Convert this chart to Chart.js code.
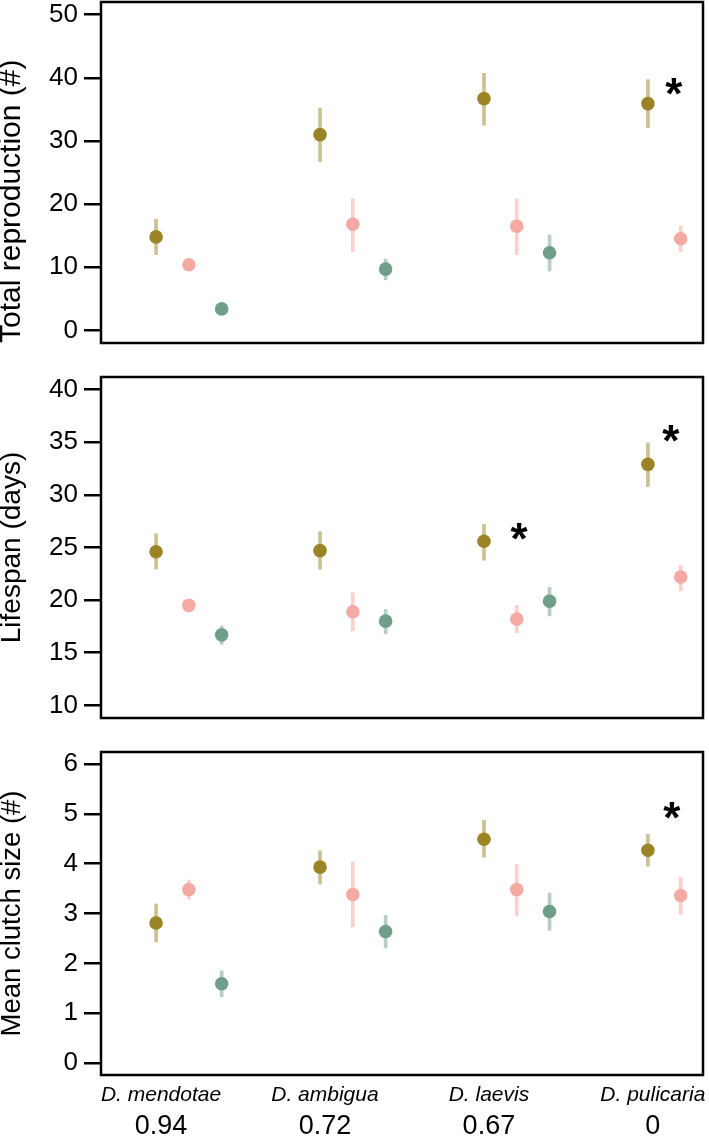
<!DOCTYPE html>
<html>
<head>
<meta charset="utf-8">
<script src="https://cdn.jsdelivr.net/npm/chart.js@4/dist/chart.umd.min.js"></script>
<style>
  html, body { margin: 0; padding: 0; background: #fff; }
  canvas { position: absolute; left: 0; }
</style>
</head>
<body>
<canvas id="c1" width="709" height="350" style="top:0"></canvas>
<canvas id="c2" width="709" height="370" style="top:350px"></canvas>
<canvas id="c3" width="709" height="416" style="top:720px"></canvas>
<script>
// categories
const species = ['D. mendotae', 'D. ambigua', 'D. laevis', 'D. pulicaria'];
const similarity = ['0.94', '0.72', '0.67', '0'];
const labelX = [1.15, 6.15, 11.15, 16.15];

// x slot of each series inside the groups (no teal for D. pulicaria)
const xOlive = [1, 6, 11, 16];
const xPink = [2, 7, 12, 17];
const xTeal = [3, 8, 13];

// Total reproduction (#)
const reproOlive = [14.8, 31.0, 36.7, 35.9];
const reproOliveLo = [12.0, 26.7, 32.5, 32.1];
const reproOliveHi = [17.6, 35.2, 40.7, 39.7];
const reproPink = [10.4, 16.8, 16.5, 14.5];
const reproPinkLo = [10.0, 12.5, 12.0, 12.4];
const reproPinkHi = [10.8, 20.8, 20.8, 16.5];
const reproTeal = [3.4, 9.7, 12.3];
const reproTealLo = [3.1, 8.0, 9.4];
const reproTealHi = [3.7, 11.3, 15.1];
const reproTicks = [0, 10, 20, 30, 40, 50];
const reproStars = [{x: 16.79, y: 38.6}];

// Lifespan (days)
const lifeOlive = [24.6, 24.7, 25.6, 32.9];
const lifeOliveLo = [22.95, 22.95, 23.8, 30.8];
const lifeOliveHi = [26.3, 26.5, 27.2, 34.95];
const lifePink = [19.5, 18.9, 18.2, 22.2];
const lifePinkLo = [19.2, 17.1, 16.9, 20.9];
const lifePinkHi = [19.8, 20.7, 19.5, 23.3];
const lifeTeal = [16.7, 18.0, 19.9];
const lifeTealLo = [15.8, 16.8, 18.5];
const lifeTealHi = [17.55, 19.1, 21.2];
const lifeTicks = [10, 15, 20, 25, 30, 35, 40];
const lifeStars = [{x: 12.07, y: 26.5}, {x: 16.7, y: 35.8}];

// Mean clutch size (#)
const clutchOlive = [2.81, 3.93, 4.49, 4.27];
const clutchOliveLo = [2.43, 3.59, 4.13, 3.95];
const clutchOliveHi = [3.19, 4.26, 4.87, 4.59];
const clutchPink = [3.48, 3.38, 3.48, 3.36];
const clutchPinkLo = [3.29, 2.73, 2.96, 2.98];
const clutchPinkHi = [3.67, 4.03, 3.98, 3.73];
const clutchTeal = [1.59, 2.64, 3.04];
const clutchTealLo = [1.33, 2.31, 2.66];
const clutchTealHi = [1.85, 2.96, 3.41];
const clutchTicks = [0, 1, 2, 3, 4, 5, 6];
const clutchStars = [{x: 16.73, y: 5.06}];

const OLIVE = '#9a8425', PINK = '#f5a9a3', TEAL = '#6f9e89';
const OLIVE_BAR = 'rgba(154,132,37,0.5)', PINK_BAR = 'rgba(245,169,163,0.55)', TEAL_BAR = 'rgba(111,158,137,0.5)';
const FONT = '"Liberation Sans", Arial, Helvetica, sans-serif';

function points(xs, vals) {
    return vals.map((v, i) => ({x: xs[i], y: v}));
}
function bars(xs, lo, hi) {
    return lo.map((v, i) => ({x: xs[i], y: [v, hi[i]]}));
}

// frame around the plot + significance stars
const boxAndStars = {
    id: 'boxAndStars',
    afterDatasetsDraw(chart, args, opts) {
        const {ctx, chartArea: a, scales} = chart;
        ctx.save();
        ctx.strokeStyle = '#000';
        ctx.lineWidth = 2.5;
        ctx.strokeRect(a.left, a.top, a.right - a.left, a.bottom - a.top);
        ctx.font = 'bold 44px ' + FONT;
        ctx.fillStyle = '#000';
        ctx.textAlign = 'center';
        ctx.textBaseline = 'alphabetic';
        const m = ctx.measureText('*');
        (opts.stars || []).forEach(s => {
            const px = scales.x.getPixelForValue(s.x);
            const py = scales.y.getPixelForValue(s.y);
            ctx.fillText('*', px, py + (m.actualBoundingBoxAscent - m.actualBoundingBoxDescent) / 2);
        });
        ctx.restore();
    }
};

function makePanel(id, p) {
    const span = p.ticks[p.ticks.length - 1] - p.ticks[0];
    const barData = bars(xOlive, p.oliveLo, p.oliveHi)
        .concat(bars(xPink, p.pinkLo, p.pinkHi))
        .concat(bars(xTeal, p.tealLo, p.tealHi));
    const barColors = xOlive.map(() => OLIVE_BAR)
        .concat(xPink.map(() => PINK_BAR))
        .concat(xTeal.map(() => TEAL_BAR));

    const scales = {
        x: {
            type: 'linear',
            min: -0.68,
            max: 17.68,
            offset: false,
            display: p.showX,
            weight: 0,
            grid: { display: false, drawTicks: false },
            border: { display: false },
            afterBuildTicks: s => { s.ticks = labelX.map(v => ({value: v})); },
            ticks: {
                autoSkip: false,
                maxRotation: 0,
                padding: 8,
                color: '#000',
                font: { family: FONT, size: 21, style: 'italic' },
                callback: (v, i) => species[i]
            },
            afterFit: s => {
                s.paddingLeft = 0; s.paddingRight = 0;
                if (p.showX) s.height = 35;
            }
        },
        y: {
            type: 'linear',
            min: p.ticks[0] - 0.04 * span,
            max: p.ticks[p.ticks.length - 1] + 0.04 * span,
            afterBuildTicks: s => { s.ticks = p.ticks.map(v => ({value: v})); },
            grid: { drawOnChartArea: false, drawTicks: true, tickLength: 17, tickColor: '#000', tickWidth: 2.5, lineWidth: 2.5 },
            border: { display: false },
            ticks: {
                padding: 6,
                color: '#000',
                font: { family: FONT, size: 26 }
            },
            title: {
                display: true,
                text: p.title,
                align: p.titleAlign,
                color: '#000',
                padding: 0,
                font: { family: FONT, size: p.titleSize, lineHeight: p.titleLH }
            },
            afterFit: s => { s.width = 101; s.paddingTop = 0; s.paddingBottom = 0; }
        }
    };
    if (p.showX) {
        scales.x2 = {
            type: 'linear',
            position: 'bottom',
            min: -0.68,
            max: 17.68,
            offset: false,
            weight: 1,
            grid: { display: false, drawTicks: false },
            border: { display: false },
            afterBuildTicks: s => { s.ticks = labelX.map(v => ({value: v})); },
            ticks: {
                autoSkip: false,
                maxRotation: 0,
                padding: 3,
                color: '#000',
                font: { family: FONT, size: 27, lineHeight: 1 },
                callback: (v, i) => similarity[i]
            },
            afterFit: s => { s.height = 26; s.paddingLeft = 0; s.paddingRight = 0; }
        };
    }

    return new Chart(document.getElementById(id), {
        type: 'scatter',
        data: {
            datasets: [
                { type: 'bar', data: barData, backgroundColor: barColors, borderWidth: 0, barThickness: 3, order: 2 },
                { data: points(xOlive, p.olive), backgroundColor: OLIVE, pointRadius: 6.8, borderWidth: 0, order: 1 },
                { data: points(xPink, p.pink), backgroundColor: PINK, pointRadius: 6.8, borderWidth: 0, order: 1 },
                { data: points(xTeal, p.teal), backgroundColor: TEAL, pointRadius: 6.8, borderWidth: 0, order: 1 }
            ]
        },
        options: {
            responsive: false,
            animation: false,
            layout: { autoPadding: false, padding: { left: 0, right: 6, top: p.padTop, bottom: p.padBottom } },
            plugins: {
                legend: { display: false },
                tooltip: { enabled: false },
                boxAndStars: { stars: p.stars }
            },
            scales: scales
        },
        plugins: [boxAndStars]
    });
}

makePanel('c1', {
    title: 'Total reproduction (#)', titleSize: 30, titleLH: 0.77, titleAlign: 'start',
    ticks: reproTicks, stars: reproStars, showX: false, padTop: 2, padBottom: 7,
    olive: reproOlive, oliveLo: reproOliveLo, oliveHi: reproOliveHi,
    pink: reproPink, pinkLo: reproPinkLo, pinkHi: reproPinkHi,
    teal: reproTeal, tealLo: reproTealLo, tealHi: reproTealHi
});
makePanel('c2', {
    title: 'Lifespan (days)', titleSize: 28, titleLH: 0.88, titleAlign: 'center',
    ticks: lifeTicks, stars: lifeStars, showX: false, padTop: 27, padBottom: 2,
    olive: lifeOlive, oliveLo: lifeOliveLo, oliveHi: lifeOliveHi,
    pink: lifePink, pinkLo: lifePinkLo, pinkHi: lifePinkHi,
    teal: lifeTeal, tealLo: lifeTealLo, tealHi: lifeTealHi
});
makePanel('c3', {
    title: 'Mean clutch size (#)', titleSize: 27.5, titleLH: 0.91, titleAlign: 'center',
    ticks: clutchTicks, stars: clutchStars, showX: true, padTop: 32, padBottom: 0,
    olive: clutchOlive, oliveLo: clutchOliveLo, oliveHi: clutchOliveHi,
    pink: clutchPink, pinkLo: clutchPinkLo, pinkHi: clutchPinkHi,
    teal: clutchTeal, tealLo: clutchTealLo, tealHi: clutchTealHi
});
</script>
</body>
</html>
